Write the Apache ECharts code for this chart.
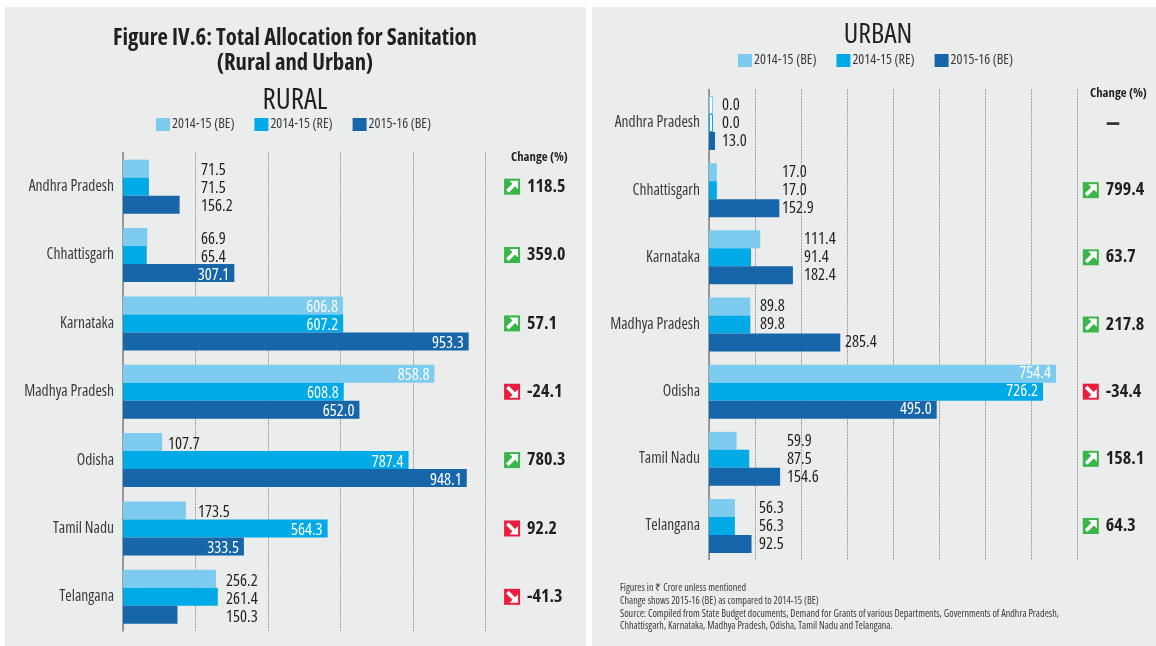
<!DOCTYPE html>
<html><head><meta charset="utf-8">
<style>html,body{margin:0;padding:0;background:#fff}#c{width:1156px;height:646px}</style>
<script src="https://cdn.jsdelivr.net/npm/echarts@6/dist/echarts.min.js"></script>
</head><body><div id="c"></div>
<script>
const states = ['Andhra Pradesh','Chhattisgarh','Karnataka','Madhya Pradesh','Odisha','Tamil Nadu','Telangana'];
const seriesNames = ['2014-15 (BE)','2014-15 (RE)','2015-16 (BE)'];
const ruralBE1415 = [71.5,66.9,606.8,858.8,107.7,173.5,256.2];
const ruralRE1415 = [71.5,65.4,607.2,608.8,787.4,564.3,261.4];
const ruralBE1516 = [156.2,307.1,953.3,652.0,948.1,333.5,150.3];
const urbanBE1415 = [0.0,17.0,111.4,89.8,754.4,59.9,56.3];
const urbanRE1415 = [0.0,17.0,91.4,89.8,726.2,87.5,56.3];
const urbanBE1516 = [13.0,152.9,182.4,285.4,495.0,154.6,92.5];
const ruralChange = ['118.5','359.0','57.1','-24.1','780.3','92.2','-41.3'];
const ruralTrend = ['up','up','up','down','up','down','down'];
const urbanChange = [null,'799.4','63.7','217.8','-34.4','158.1','64.3'];
const urbanTrend = [null,'up','up','up','down','up','up'];

// Layout: where each outside label starts (page px); null = inside the bar, right aligned.
const ruralLabelX = [
  [201,201,null,null,168,198,226],
  [201,201,null,null,null,null,226],
  [201,null,null,null,null,null,226]];
const urbanLabelX = [
  [722,782,804,760,null,787,759],
  [722,782,804,760,null,787,759],
  [722,782,804,845,null,787,759]];
const colors = ['#7ECBF0','#00AAE6','#1866AA'];
const FONT = '"Open Sans"';
const COND = 'condensed';
const INK = '#231f20';
const ARROW = 'path://M4 0H14V10L10.5 6.5L3 14L0 11L7.5 3.5Z';

const G = [
  {left:123, width:362.6, top:152.5, height:478.5, max:1000, step:200, changeX:1073, labelDy:2, catPad:[6,0,0,0]},
  {left:709, width:368, top:89.4, height:470.2, max:800, step:100, changeX:830, labelDy:0, catPad:[0,0,2,0]}
];

function barSeries(gi, si, values, labelX){
  const g = G[gi], k = g.width / g.max;
  return {
    type:'bar', name:seriesNames[si], xAxisIndex:gi, yAxisIndex:gi,
    barWidth:18, barGap:0, barMinHeight:4,
    itemStyle:{color:colors[si]},
    data: values.map((v,i)=>{
      const x = labelX[si][i];
      const label = x === null
        ? {show:true, position:'insideRight', distance:5, color:'#fff', offset:[0,g.labelDy]}
        : {show:true, position:'right', distance:0, color:INK,
           offset:[x - (g.left + Math.max(v*k,v===0?4:0)), g.labelDy]};
      const d = {value:v, label};
      if (v === 0) d.itemStyle = {color:'#fff', borderColor:colors[si], borderWidth:1};
      return d;
    }),
    label:{fontFamily:FONT, fontStyle:COND, fontSize:16.5, formatter:p=>p.value.toFixed(1)},
    silent:true
  };
}
function changeSeries(gi, change, trend){
  const g = G[gi];
  const rows = states.map((s,i)=>({s,i})).filter(r=>change[r.i]!==null);
  const squares = {
    type:'scatter', name:'change', xAxisIndex:gi, yAxisIndex:gi, clip:false, silent:true,
    symbol:'rect', symbolSize:16, z:5,
    data: rows.map(r=>({
      value:[g.changeX, r.s],
      itemStyle:{color: trend[r.i]==='up' ? '#39B54A' : '#EC1C3F', opacity:1},
      label:{show:true, position:'right', distance:7, formatter:change[r.i],
             fontFamily:FONT, fontStyle:COND, fontSize:18, fontWeight:'bold', color:INK}
    }))
  };
  const arrows = {
    type:'scatter', name:'arrow', xAxisIndex:gi, yAxisIndex:gi, clip:false, silent:true,
    symbol:ARROW, symbolSize:12, z:6,
    itemStyle:{color:'#fff', opacity:1},
    data: rows.map(r=>({value:[g.changeX, r.s], symbolRotate: trend[r.i]==='up' ? 0 : -90}))
  };
  return [squares, arrows];
}
const noChange = {
  type:'scatter', name:'none', xAxisIndex:1, yAxisIndex:1, clip:false, silent:true,
  symbol:'rect', symbolSize:1, itemStyle:{color:'transparent'},
  data: urbanChange.map((c,i)=>c===null?{
    value:[G[1].changeX+48, states[i]],
    label:{show:true, position:'inside', formatter:'—', fontFamily:FONT, fontStyle:COND, fontSize:12,
           fontWeight:'bold', offset:[0,1], color:INK, textBorderColor:INK, textBorderWidth:1.5}
  }:null).filter(Boolean)
};
function text(o){ return {left:o.l,top:o.t,textAlign:o.a||'left',text:o.x,padding:0,
  textStyle:Object.assign({fontFamily:FONT,fontStyle:COND,color:INK},o.s)}; }
const legendBase = {orient:'horizontal', itemWidth:14, itemHeight:13, itemGap:20, icon:'rect', selectedMode:false, padding:0,
  textStyle:{fontFamily:FONT, fontStyle:COND, fontSize:14, color:'#3a3a3a', padding:[0,0,0,-3]}, data:seriesNames};

const option = {
  animation:false, backgroundColor:'#fff',
  graphic:[
    {type:'rect', shape:{x:5,y:7,width:581,height:639}, style:{fill:'#EBEDED'}, z:-10, silent:true},
    {type:'rect', shape:{x:592,y:7,width:564,height:639}, style:{fill:'#EBEDED'}, z:-10, silent:true}
  ],
  title:[
    text({l:295,t:26,a:'center',x:'Figure IV.6: Total Allocation for Sanitation\n(Rural and Urban)',s:{fontSize:22.7,fontWeight:'bold',lineHeight:25}}),
    text({l:295,t:86,a:'center',x:'RURAL',s:{fontSize:29,fontWeight:'normal'}}),
    text({l:878,t:21,a:'center',x:'URBAN',s:{fontSize:28,fontWeight:'normal'}}),
    text({l:511,t:151,x:'Change (%)',s:{fontSize:12.8,fontWeight:'bold'}}),
    text({l:1090,t:87,x:'Change (%)',s:{fontSize:12.8,fontWeight:'bold'}}),
    text({l:620,t:582,x:'Figures in ₹ Crore unless mentioned\nChange shows 2015-16 (BE) as compared to 2014-15 (BE)\nSource: Compiled from State Budget documents, Demand for Grants of various Departments, Governments of Andhra Pradesh,\nChhattisgarh, Karnataka, Madhya Pradesh, Odisha, Tamil Nadu and Telangana.',s:{fontSize:10.1,fontWeight:'normal',lineHeight:12.7,color:'#3a3a3a'}})
  ],
  legend:[
    Object.assign({left:156, top:117.5},legendBase),
    Object.assign({left:738, top:53.5},legendBase)
  ],
  grid:G.map(g=>({left:g.left,width:g.width,top:g.top,height:g.height,containLabel:false,outerBoundsMode:'none'})),
  xAxis:G.map((g,i)=>({type:'value',gridIndex:i,min:0,max:g.max,interval:g.step,
    axisLabel:{show:false},axisTick:{show:false},axisLine:{show:false},
    splitLine:{show:true,lineStyle:{color:'#9a9a9a',type:[2,1],width:1}}})),
  yAxis:G.map((g,i)=>({type:'category',gridIndex:i,inverse:true,data:states,
    axisTick:{show:false},axisLine:{show:true,lineStyle:{color:'#808285',width:1.5}},
    axisLabel:{fontFamily:FONT,fontStyle:COND,fontSize:15.5,color:'#3a3a3a',margin:9,padding:g.catPad},splitLine:{show:false}})),
  series:[
    barSeries(0,0,ruralBE1415,ruralLabelX),barSeries(0,1,ruralRE1415,ruralLabelX),barSeries(0,2,ruralBE1516,ruralLabelX),
    barSeries(1,0,urbanBE1415,urbanLabelX),barSeries(1,1,urbanRE1415,urbanLabelX),barSeries(1,2,urbanBE1516,urbanLabelX),
    ...changeSeries(0,ruralChange,ruralTrend),
    ...changeSeries(1,urbanChange,urbanTrend),
    noChange
  ]
};
echarts.init(document.getElementById('c'),null,{renderer:'canvas'}).setOption(option);
</script></body></html>
